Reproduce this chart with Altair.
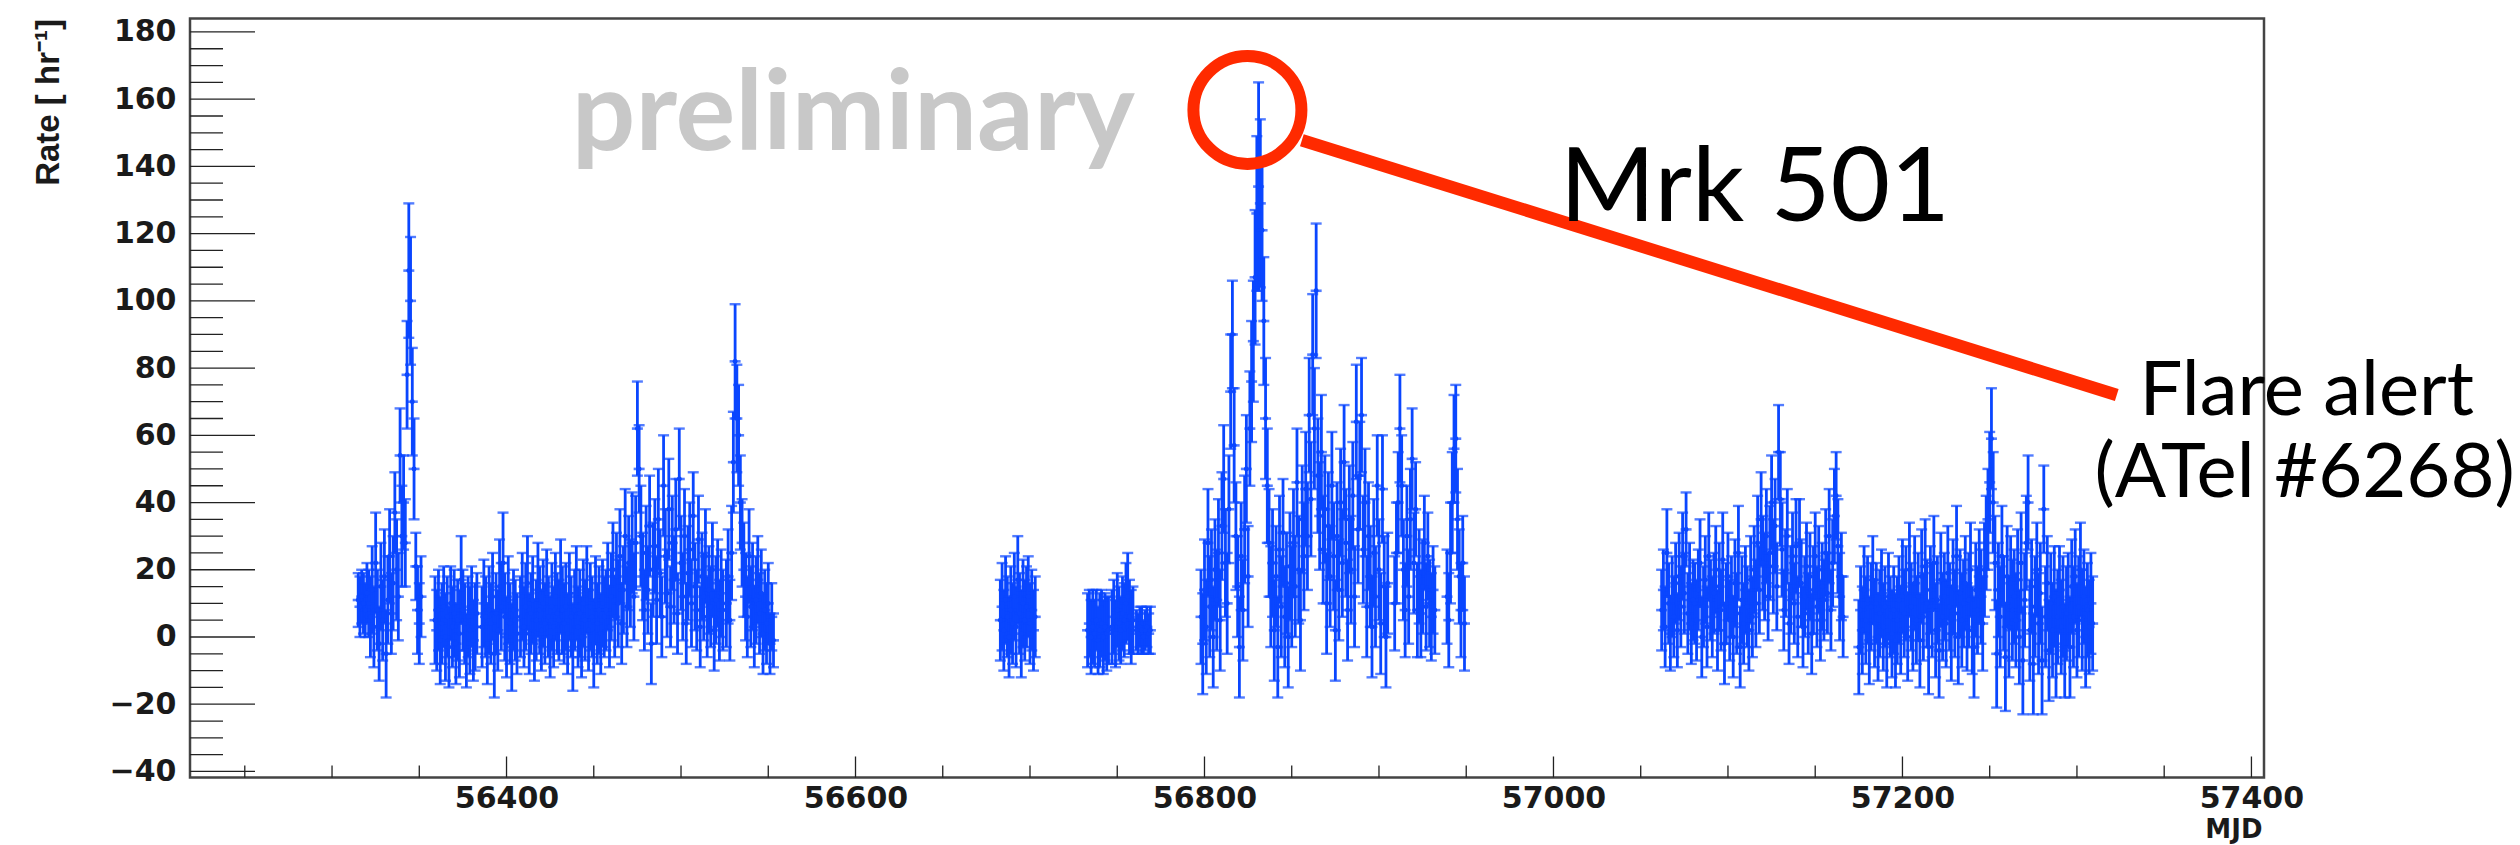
import altair as alt
import pandas as pd

# ---------------------------------------------------------------------------
# Daily Mrk 501 transit rates (events / hr) with 1-sigma errors.
# Each run of consecutive transit days starts at the given MJD.
# ---------------------------------------------------------------------------
start_mjd = [56315, 56359, 56386, 56408, 56433, 56457, 56526,
             56683, 56733, 56747, 56761, 56798, 56909, 56939,
             57062, 57175]

rate_a = [11, 9, 12, 10, 8, 13, 10, 6, 14, 3, 22, 8, -2, 15, 5, 18, -5, 11, 24, 7,
          16, 37, 20, 12, 54, 30, 40, 28, 78, 109, 100, 70, 50, 21, 8, 4, 12]
err_a = [8, 9, 8, 9, 8, 9, 10, 12, 13, 12, 15, 12, 11, 13, 12, 14, 13, 13, 14, 12,
         14, 12, 15, 13, 14, 15, 14, 13, 16, 20, 19, 16, 15, 10, 13, 12, 12]

rate_b = [5, 2, 8, -1, 4, 9, 0, 6, -3, 10, 3, 7, -2, 5, 1, 17, 8, 4, -4, 6, 2, 9, -1, 3, 7]
err_b = [13, 12, 12, 13, 12, 12, 13, 12, 12, 11, 12, 13, 12, 12, 13, 13, 12, 12, 11, 12, 13, 12, 12, 13, 12]

rate_c = [3, 10, 6, -2, 8, 4, 12, -5, 7, 2, 15, 9, 22, 6, 0, 11, 4, -3, 8, 5, 1]
err_c = [12, 13, 12, 12, 13, 12, 13, 13, 12, 12, 14, 13, 15, 13, 12, 13, 12, 13, 12, 12, 12]

rate_d = [6, 12, 3, 9, 16, 1, 7, 11, -1, 5, 14, 8, 2, 10, 4, 13, 6, 0, 9, 3, 12, 7, 5, 15, 8]
err_d = [12, 13, 12, 13, 14, 12, 12, 13, 12, 12, 14, 13, 12, 13, 12, 13, 12, 12, 13, 12, 13, 12, 12, 14, 13]

rate_e = [4, 9, 1, 12, 6, -3, 8, 13, 3, 7, 0, 10, 5, 14, 2, 9, 6, -2, 11, 4, 8, 1, 10, 6]
err_e = [12, 13, 12, 13, 12, 13, 12, 14, 12, 13, 12, 13, 12, 13, 12, 13, 12, 13, 13, 12, 13, 12, 13, 12]

rate_f = [8, 15, 3, 12, 20, 6, 18, 10, 24, 4, 14, 30, 9, 22, 16, 28, 12, 28, 62, 50,
          30, 18, 8, 25, 14, 33, -2, 20, 27, 11, 35, 19, 6, 45, 24, 13, 38, 9, 28, 17,
          32, 7, 47, 22, 12, 30, 4, 19, 26, 10, 36, 15, 8, 29, 3, 18, 12, 24, 6, 14,
          9, 20, 2, 11, 16, 5, 13, 8]
err_f = [12, 13, 12, 13, 14, 12, 13, 13, 14, 12, 13, 14, 12, 14, 13, 15, 13, 14, 14, 13,
         15, 13, 12, 14, 13, 15, 12, 14, 14, 13, 15, 13, 12, 15, 14, 13, 15, 12, 14, 13,
         15, 12, 15, 14, 13, 14, 12, 14, 14, 13, 13, 13, 12, 13, 12, 13, 13, 14, 12, 13,
         12, 14, 12, 13, 13, 12, 13, 12]

rate_g = [10, 18, 5, 25, 52, 82, 65, 60, 40, 28, 20, 12, 6, 24, 9, 15, 3, 11, 17, 7,
          13, 1, 8, 4, 10, -2, 6, -1]
err_g = [13, 14, 12, 14, 15, 17, 16, 15, 14, 13, 14, 13, 12, 14, 12, 13, 12, 13, 13, 12,
         13, 12, 12, 12, 12, 9, 10, 8]

rate_h = [5, 9, 2, 11, 6, 0, 8, 4, 12, 3, 17, 7, 1, 10, 5, 9, 12, 4, 8, 2, 6]
err_h = [12, 13, 12, 13, 12, 12, 13, 12, 13, 12, 13, 12, 13, 13, 12, 12, 12, 12, 12, 12, 12]

rate_i = [2, 4, 0, 3, 1, 5, -1, 2, 4, 0, 3, 1, 2]
err_i = [11, 10, 11, 11, 10, 9, 10, 11, 10, 11, 10, 11, 10]

rate_j = [3, 6, 1, 8, 4, 2, 7, 5, 10, 12, 6, 3, 5]
err_j = [11, 11, 10, 11, 11, 10, 11, 11, 12, 13, 11, 11, 10]

rate_k = [2, 1, 3, 2, 0, 2, 3, 1, 2]
err_k = [6, 6, 6, 7, 5, 6, 6, 6, 7]

rate_m = [6, -2, 14, 3, 28, 9, 17, 0, 20, 11, 25, 5, 33, 47, 22, 10, 38, 73, 90, 57,
          30, 15, -3, 24, 8, 32, 50, 18, 62, 76, 88, 107, 126, 134, 129, 121, 94, 65, 45, 28,
          12, 22, 2, 18, -3, 26, 9, 31, 6, 16, 0, 21, 12, 28, 15, 46, 20, 5,
          35, 24, 44, 30, 66, 41, 84, 62, 103, 48, 36, 55, 26, 38, 10, 33, 18, 45, 24, 2,
          30, 14, 40, 22, 52, 28, 8, 35, 20, 42, 12, 64, 32, 48, 66, 26, 40, 9, 30, 18,
          3, 25, 12, 45, 20, 4, 44, 15, 0, 16]
err_m = [14, 15, 15, 14, 16, 15, 15, 15, 15, 15, 16, 15, 16, 16, 16, 15, 16, 17, 16, 17,
         16, 15, 15, 16, 15, 16, 16, 15, 17, 18, 18, 20, 23, 31, 25, 21, 19, 18, 17, 16,
         15, 16, 15, 15, 15, 16, 15, 16, 15, 15, 15, 16, 15, 16, 15, 16, 16, 15, 16, 16,
         17, 16, 17, 17, 18, 18, 20, 17, 16, 17, 16, 16, 15, 16, 15, 16, 16, 15, 16, 15,
         16, 16, 17, 16, 15, 16, 16, 16, 15, 17, 16, 16, 17, 16, 16, 15, 16, 15, 15, 16,
         15, 15, 15, 15, 16, 15, 15, 15]

rate_n = [10, 25, 40, 62, 45, 20, 8, 30, 12, 35, 53, 22, 38, 8, 18, 7, 15, 28, 9, 24, 10, 6, 14, 8]
err_n = [14, 15, 15, 16, 15, 15, 14, 15, 14, 15, 15, 15, 14, 14, 14, 13, 14, 14, 13, 13, 13, 13, 13, 13]

rate_p = [12, 5, 25, 40, 56, 59, 35, 18, 8, 22, 4]
err_p = [14, 14, 15, 15, 16, 16, 15, 14, 14, 14, 14]

rate_q = [8, 14, 3, 25, 10, 1, 12, 6, 16, 2,
          18, 9, 24, 13, 32, 7, 15, 4, 11, 10,
          5, 14, 22, 0, 9, 17, 3, 24, 11, 6,
          13, 20, 2, 15, 8, 23, -2, 10, 18, 5,
          12, 0, 16, 7, 25, -3, 11, 4, 14, 9,
          2, 17, 6, 20, 10, 28, 14, 35, 22, 18,
          30, 12, 25, 40, 21, 33, 15, 55, 41, 26,
          8, 19, 30, 4, 14, 24, 10, 27, 6, 28,
          16, 3, 12, 21, 7, 18, 1, 14, 24, 9,
          20, 5, 15, 11, 25, 13, 30, 8, 22, 36, 42, 27, 12, 18, 6]
err_q = [12, 12, 12, 13, 12, 11, 12, 12, 12, 11,
         13, 12, 13, 12, 11, 12, 13, 12, 12, 12,
         12, 12, 13, 12, 12, 13, 12, 13, 12, 12,
         12, 13, 12, 13, 12, 14, 12, 12, 13, 12,
         12, 12, 13, 12, 14, 12, 13, 12, 13, 12,
         12, 13, 12, 13, 13, 14, 13, 14, 14, 13,
         14, 13, 14, 14, 14, 14, 13, 14, 14, 14,
         12, 13, 14, 12, 13, 13, 12, 14, 12, 13,
         13, 12, 12, 13, 12, 13, 12, 13, 13, 12,
         13, 12, 13, 12, 13, 12, 14, 12, 13, 14, 13, 14, 13, 13, 12]

rate_r = [-3, 8, 2, 14, 5, 11, -1, 9, 17, 4,
          10, 0, 7, 13, 3, 9, -2, 12, 6, 1,
          8, -1, 5, 11, 2, 15, 7, 13, 0, 20,
          9, 3, 16, 5, 12, -1, 18, 6, 21, 10,
          -3, 14, 8, 22, 2, 11, -4, 17, 6, 12,
          4, 19, 9, 1, 15, 7, 24, 0, 13, 5,
          10, 16, 3, 11, 20, 2, -3, 14, 8, 18,
          12, 4, 20, 28, 35, 46, 59, 40, 22, -5,
          14, 6, 24, 10, -6, 18, 3, 16, 8, 12,
          5, 17, 0, 22, -7, 11, 28, 40, 2, 15,
          -8, 9, 20, 4, 13, -7, 38, 6, 16, -4,
          10, 2, 12, -2, 6, 14, 3, 9, -4, 7,
          11, -3, 15, 6, 18, 2, 9, 20, 5, 12, 0, 8, 3, 10, 4]
err_r = [14, 13, 13, 13, 13, 13, 13, 13, 13, 13,
         12, 13, 13, 13, 13, 12, 13, 13, 12, 13,
         13, 14, 13, 13, 13, 14, 13, 14, 13, 14,
         13, 13, 14, 13, 13, 14, 14, 13, 14, 13,
         14, 13, 14, 14, 14, 13, 14, 14, 13, 13,
         13, 14, 13, 14, 14, 13, 15, 14, 13, 14,
         13, 14, 13, 14, 14, 13, 15, 14, 13, 14,
         14, 14, 14, 14, 15, 15, 15, 15, 14, 16,
         14, 15, 15, 14, 16, 15, 15, 14, 15, 14,
         14, 15, 14, 15, 16, 14, 14, 14, 15, 14,
         15, 15, 14, 15, 15, 16, 13, 15, 14, 15,
         15, 14, 15, 16, 14, 13, 14, 15, 14, 14,
         14, 15, 14, 15, 14, 14, 15, 14, 15, 14, 15, 14, 14, 15, 14]

rate_runs = [rate_a, rate_b, rate_c, rate_d, rate_e, rate_f, rate_g, rate_h,
             rate_i, rate_j, rate_k, rate_m, rate_n, rate_p, rate_q, rate_r]
err_runs = [err_a, err_b, err_c, err_d, err_e, err_f, err_g, err_h,
            err_i, err_j, err_k, err_m, err_n, err_p, err_q, err_r]

# axis ticks
y_major = [-40, -20, 0, 20, 40, 60, 80, 100, 120, 140, 160, 180]
x_major = [56400, 56600, 56800, 57000, 57200, 57400]

# ---------------------------------------------------------------------------
rows = []
for m0, rs, es in zip(start_mjd, rate_runs, err_runs):
    for day, (r, e) in enumerate(zip(rs, es)):
        rows.append({"mjd": m0 + day, "rate": r, "err": e})
lc = pd.DataFrame(rows)

BLUE = "#0a46ff"
RED = "#ff2a00"
INK = "#1a1a1a"
W, H = 2074, 759

xs = alt.Scale(domain=[56218.6, 57407.2], nice=False, zero=False)
ys = alt.Scale(domain=[-41.8, 184.0], nice=False, zero=False)

x_axis = alt.Axis(values=x_major, format="d", ticks=False, domain=False, grid=False,
                  labelFont="DejaVu Sans", labelFontSize=30, labelFontWeight="bold",
                  labelColor=INK, labelPadding=6, labelFlush=False, labelOverlap=False,
                  title="MJD", titleFont="DejaVu Sans", titleFontSize=26,
                  titleFontWeight="bold", titleColor=INK,
                  titleAnchor="end", titleAlign="right", titleBaseline="alphabetic",
                  titleX=W - 2, titleY=60)
y_axis = alt.Axis(values=y_major, format="d", ticks=False, domain=False, grid=False,
                  labelFont="DejaVu Sans", labelFontSize=30, labelFontWeight="bold",
                  labelColor=INK, labelPadding=14, labelFlush=False, labelOverlap=False,
                  title="Rate [ hr⁻¹]", titleFont="Liberation Sans", titleFontSize=33,
                  titleFontWeight="bold", titleColor=INK,
                  titleAngle=270, titleAlign="right", titleBaseline="middle",
                  titleX=-142, titleY=0)


def X(field):
    return alt.X(field, scale=xs, axis=x_axis)


def Y(field):
    return alt.Y(field, scale=ys, axis=y_axis)


base = alt.Chart(lc).transform_calculate(
    lo="datum.rate - datum.err", hi="datum.rate + datum.err")

err_bars = base.mark_rule(color=BLUE, strokeWidth=2.8).encode(
    x=X("mjd:Q"), y=Y("lo:Q"), y2="hi:Q")
cap_hi = base.mark_tick(orient="horizontal", size=11, thickness=2.4, color=BLUE).encode(
    x=X("mjd:Q"), y=Y("hi:Q"))
cap_lo = base.mark_tick(orient="horizontal", size=11, thickness=2.4, color=BLUE).encode(
    x=X("mjd:Q"), y=Y("lo:Q"))
centre = base.mark_tick(orient="horizontal", size=11, thickness=2.6, color=BLUE).encode(
    x=X("mjd:Q"), y=Y("rate:Q"))
dots = base.mark_point(shape="circle", filled=True, size=24, color=BLUE, opacity=1).encode(
    x=X("mjd:Q"), y=Y("rate:Q"))

# inward-pointing frame ticks
y_ticks = pd.DataFrame({"v": [v for v in range(-40, 181, 5)]})
y_ticks["major"] = y_ticks["v"].isin(y_major)
x_ticks = pd.DataFrame({"v": [v for v in range(56250, 57401, 50)]})
x_ticks["major"] = x_ticks["v"].isin(x_major)

ytick_major = alt.Chart(y_ticks).transform_filter("datum.major").mark_rule(
    color="#222", strokeWidth=1.3).encode(
    y=Y("v:Q"), x=alt.value(0), x2=alt.value(65))
ytick_minor = alt.Chart(y_ticks).transform_filter("!datum.major").mark_rule(
    color="#222", strokeWidth=1.3).encode(
    y=Y("v:Q"), x=alt.value(0), x2=alt.value(33))
xtick_major = alt.Chart(x_ticks).transform_filter("datum.major").mark_rule(
    color="#222", strokeWidth=1.3).encode(
    x=X("v:Q"), y=alt.value(H), y2=alt.value(H - 21))
xtick_minor = alt.Chart(x_ticks).transform_filter("!datum.major").mark_rule(
    color="#222", strokeWidth=1.3).encode(
    x=X("v:Q"), y=alt.value(H), y2=alt.value(H - 12))

# annotations (placed in data coordinates)
notes = pd.DataFrame({
    "x": [56437.4, 57003.6, 57431.7, 57430.5],
    "y": [144.9, 123.7, 66.0, 41.5],
    "t": ["preliminary", "Mrk 501", "Flare alert", "(ATel #6268)"],
})
prelim = alt.Chart(notes.iloc[[0]]).mark_text(
    align="left", baseline="alphabetic", font="Lato", fontWeight="bold",
    fontSize=112, color="#c8c8c8").encode(x=X("x:Q"), y=Y("y:Q"), text="t:N")
source = alt.Chart(notes.iloc[[1]]).mark_text(
    align="left", baseline="alphabetic", font="Lato", fontSize=103,
    color="black").encode(x=X("x:Q"), y=Y("y:Q"), text="t:N")
alert = alt.Chart(notes.iloc[[2, 3]]).mark_text(
    align="center", baseline="alphabetic", font="Lato", fontSize=76,
    color="black").encode(x=X("x:Q"), y=Y("y:Q"), text="t:N")

pointer = pd.DataFrame({"x": [56855.8], "y": [147.8], "x2": [57322.8], "y2": [72.0]})
leader = alt.Chart(pointer).mark_rule(color=RED, strokeWidth=12.5, strokeCap="butt").encode(
    x=X("x:Q"), y=Y("y:Q"), x2="x2:Q", y2="y2:Q")
ring_at = pd.DataFrame({"x": [56824.6], "y": [156.8]})
ring = alt.Chart(ring_at).mark_point(shape="circle", filled=False, size=11664,
                                     strokeWidth=12, color=RED, opacity=1).encode(
    x=X("x:Q"), y=Y("y:Q"))

chart = alt.layer(
    err_bars, cap_hi, cap_lo, centre, dots,
    ytick_major, ytick_minor, xtick_major, xtick_minor,
    prelim, leader, source, alert, ring,
).properties(
    width=W, height=H,
    autosize=alt.AutoSizeParams(type="none"),
    padding={"left": 190, "top": 18.5, "right": 256, "bottom": 67.5},
    background="white",
).configure_view(
    stroke="#444", strokeWidth=2.5
)

chart.save("out.html", embed_options={"renderer": "svg", "actions": False})
